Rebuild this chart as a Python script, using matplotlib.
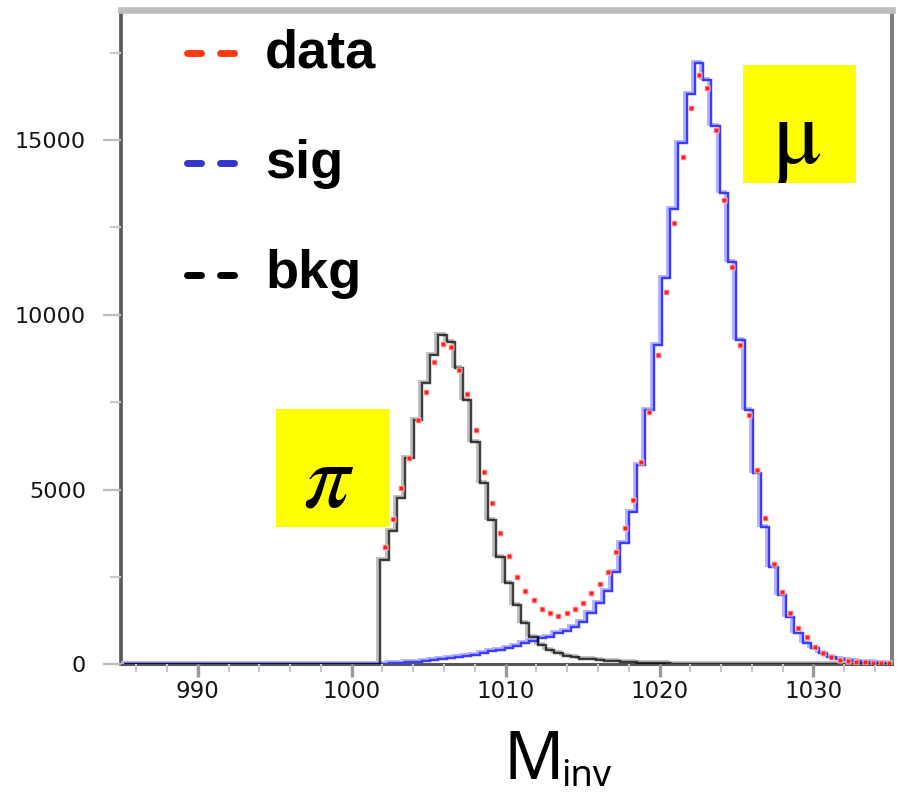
import numpy as np
import matplotlib
matplotlib.use("Agg")
import matplotlib.pyplot as plt
from matplotlib.lines import Line2D
from matplotlib.patches import Rectangle
from matplotlib.transforms import offset_copy
from matplotlib.ticker import MultipleLocator

# ---- binning of the invariant-mass spectrum ----
m_lo, m_hi, n_bins = 985.2, 1035.2, 93
first_bin = 31          # first populated bin (starts near 1001.9)

# bin contents, starting at first_bin
data_counts = [3364, 4156, 5052, 5910, 6988, 7797, 8656, 9153, 9085, 8418,
               7732, 6702, 5509, 4605, 3747, 3100, 2506, 2097, 1839, 1573,
               1459, 1382, 1476, 1590, 1762, 2031, 2288, 2649, 3204, 3890,
               4700, 5795, 7225, 8847, 10658, 12614, 14519, 15904, 16857, 16485,
               15290, 13270, 11370, 9133, 7131, 5558, 4176, 2869, 2077, 1459,
               1030, 772, 503, 315, 200, 130, 100, 80, 60, 45, 35, 25]

sig_counts = [20, 30, 45, 60, 80, 100, 125, 150, 175, 205,
              240, 280, 320, 370, 420, 480, 530, 600, 680, 740,
              790, 900, 960, 1076, 1219, 1459, 1745, 2100, 2650, 3461,
              4366, 5701, 7274, 9133, 11041, 13015, 14903, 16313, 17191, 16713,
              15397, 13472, 11516, 9276, 7274, 5463, 3936, 2792, 1982, 1362,
              887, 601, 458, 315, 218, 150, 110, 90, 75, 55, 45, 35]

bkg_counts = [2983, 3813, 4766, 5892, 6988, 8037, 8847, 9420, 9228, 8467,
              7560, 6368, 5177, 4128, 3078, 2317, 1696, 1173, 790, 560,
              410, 320, 240, 200, 160, 140, 120, 100, 85, 70,
              60, 50, 40, 30, 25, 20, 15, 10, 5, 0,
              0, 0, 0, 0, 0, 0, 0, 0, 0, 0,
              0, 0, 0, 0, 0, 0, 0, 0, 0, 0, 0, 0]

x_major = [990, 1000, 1010, 1020, 1030]
y_major = [0, 5000, 10000, 15000]

legend_labels = ["data", "sig", "bkg"]
legend_colors = ["#ff3a10", "#3535cc", "#000000"]

edges = np.linspace(m_lo, m_hi, n_bins + 1)
centers = 0.5 * (edges[:-1] + edges[1:])


def full_hist(counts):
    h = np.zeros(n_bins)
    h[first_bin:first_bin + len(counts)] = counts
    return h


W, H = 897, 797
fig = plt.figure(figsize=(W / 100, H / 100), dpi=100)
fig.patch.set_facecolor("white")


def fx(px):
    return px / W


def fy(py):
    return 1 - py / H


ax_left, ax_right, ax_top, ax_bot = 120.8, 892.0, 9.5, 664.3
ax = fig.add_axes([fx(ax_left), fy(ax_bot), (ax_right - ax_left) / W, (ax_bot - ax_top) / H])
ax.set_xlim(985.0, 1035.1)
ax.set_ylim(0, 18730)

shadow = offset_copy(ax.transData, fig=fig, x=-3.0, y=2.0, units="dots")

h_sig = full_hist(sig_counts)
h_bkg = full_hist(bkg_counts)

# light halo lines
ax.stairs(h_bkg, edges, color="#c0c0c0", lw=2.1, transform=shadow, zorder=2)
ax.stairs(h_sig, edges, color="#b4b4ff", lw=2.1, transform=shadow, zorder=2)
# main histograms
ax.stairs(h_sig, edges, color="#3c3cff", lw=1.75, zorder=3)
ax.stairs(h_bkg, edges, color="#000000", alpha=0.75, lw=1.75, zorder=4)

# data points
xc = centers[first_bin:first_bin + len(data_counts)]
ax.plot(xc, data_counts, ls="none", marker="s", ms=4.8, color="#ffc0c0", mec="none", zorder=5)
ax.plot(xc, data_counts, ls="none", marker="s", ms=2.8, color="#ff2020", mec="none", zorder=6)

# spines
ax.spines["left"].set_color("#5a5a5a")
ax.spines["left"].set_linewidth(2.66)
ax.spines["top"].set_color("#bebebe")
ax.spines["top"].set_linewidth(4.8)
ax.spines["right"].set_color("#7f7f7f")
ax.spines["right"].set_linewidth(2.9)
ax.spines["bottom"].set_color("#575757")
ax.spines["bottom"].set_linewidth(2.2)
for s in ax.spines.values():
    s.set_zorder(1)

# ticks
ax.set_xticks(x_major)
ax.set_xticklabels([str(v) for v in x_major])
ax.xaxis.set_minor_locator(MultipleLocator(2))
ax.set_yticks(y_major)
ax.set_yticklabels([str(v) for v in y_major])
ax.yaxis.set_minor_locator(MultipleLocator(2500))

ax.tick_params(axis="x", which="major", direction="out", length=9, width=2.4,
               color="#9a9a9a", pad=2, labelsize=16.5, labelcolor="#151515")
ax.tick_params(axis="x", which="minor", direction="out", length=5.8, width=1.45,
               color="#c8c8c8")
ax.tick_params(axis="y", which="major", direction="out", length=13, width=1.65,
               color="#bcbcbc", pad=12, labelsize=16, labelcolor="#151515")
ax.tick_params(axis="y", which="minor", direction="out", length=7.7, width=1.6,
               color="#c8c8c8")

# legend: dashes + bold labels
dash_rows = [53, 163, 274.5]
base_rows = [68, 178, 288]
for lab, col, yd, yb in zip(legend_labels, legend_colors, dash_rows, base_rows):
    for x0, x1 in [(186.5, 200.5), (219.5, 233.5)]:
        fig.add_artist(Line2D([fx(x0), fx(x1)], [fy(yd), fy(yd)], color=col, lw=5,
                              solid_capstyle="round", transform=fig.transFigure))
    fig.text(fx(265), fy(yb), lab, fontsize=39, fontweight="bold",
             family=["Liberation Sans", "DejaVu Sans"], color="black",
             va="baseline", ha="left")

# particle tags
tags = [((276, 409, 389, 527), "π", "italic", (326.5, 507)),
        ((743, 65, 856, 183), "μ", "normal", (797.5, 163))]
for (bx0, by0, bx1, by1), sym, sty, (tx, tb) in tags:
    fig.add_artist(Rectangle((fx(bx0), fy(by1)), (bx1 - bx0) / W, (by1 - by0) / H,
                             transform=fig.transFigure, facecolor="#ffff00",
                             edgecolor="none", zorder=2))
    fig.text(fx(tx), fy(tb), sym, fontsize=66, style=sty,
             family=["STIXGeneral", "DejaVu Serif"],
             color="black", ha="center", va="baseline", zorder=3)

# axis title
fig.text(fx(503), fy(779), "M", fontsize=48, family=["Noto Sans", "DejaVu Sans"],
         color="black", ha="left", va="baseline")
fig.text(fx(561), fy(786), "inv", fontsize=26, family=["Noto Sans", "DejaVu Sans"],
         color="black", ha="left", va="baseline")

fig.savefig("out.png", dpi=100, facecolor="white")
